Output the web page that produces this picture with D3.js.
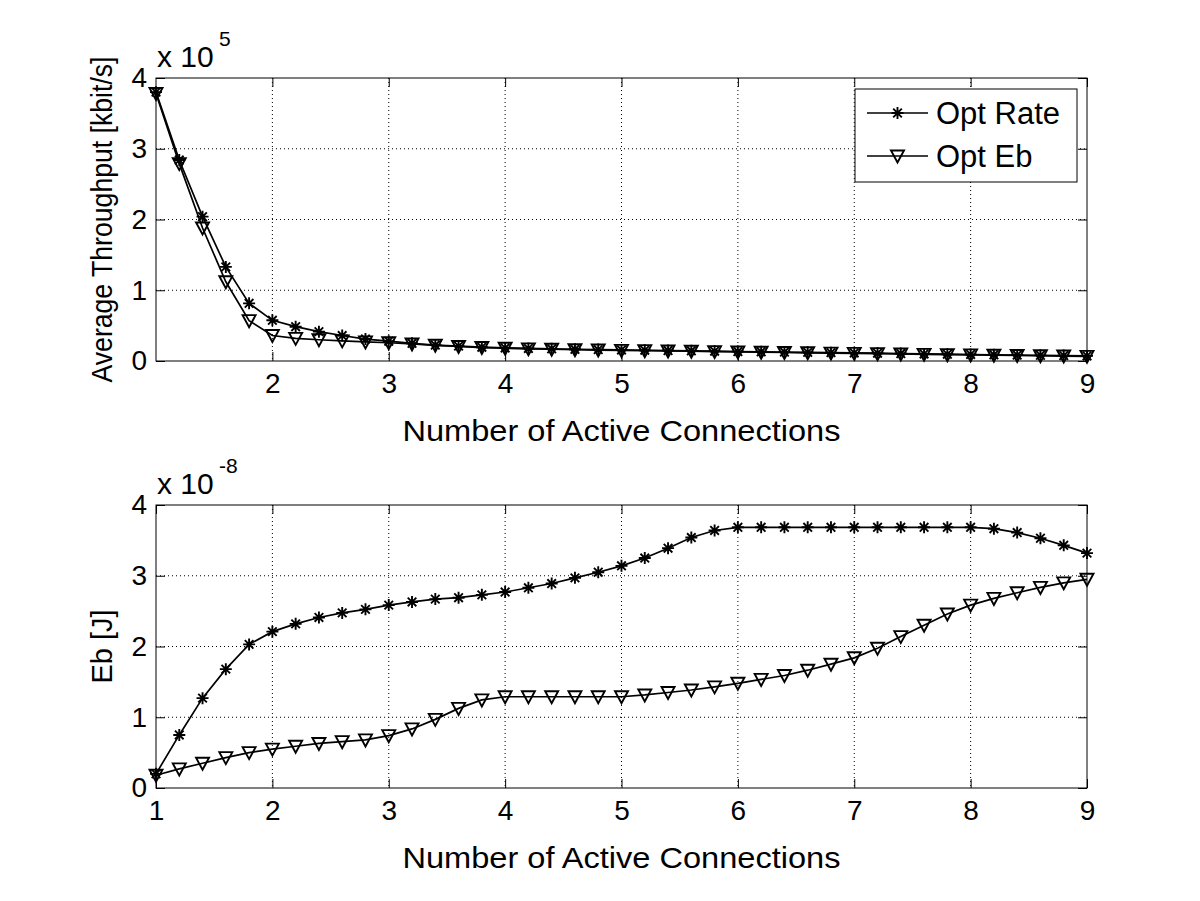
<!DOCTYPE html>
<html>
<head>
<meta charset="utf-8">
<script src="https://cdn.jsdelivr.net/npm/d3@7"></script>
<style>
    body { margin: 0; background: #fff; }
    text { font-family: "Liberation Sans", Arial, sans-serif; fill: #000; }
</style>
</head>
<body>
<script>
// number of active connections (x values of every point)
var connections = [1.0, 1.2, 1.4, 1.6, 1.8, 2.0, 2.2, 2.4, 2.6, 2.8,
    3.0, 3.2, 3.4, 3.6, 3.8, 4.0, 4.2, 4.4, 4.6, 4.8,
    5.0, 5.2, 5.4, 5.6, 5.8, 6.0, 6.2, 6.4, 6.6, 6.8,
    7.0, 7.2, 7.4, 7.6, 7.8, 8.0, 8.2, 8.4, 8.6, 8.8, 9.0];

// average throughput, x 10^5 kbit/s
var thrOptRate = [3.80, 2.84, 2.04, 1.33, 0.815, 0.575, 0.485, 0.415, 0.36, 0.31,
    0.28, 0.25, 0.225, 0.21, 0.195, 0.185, 0.178, 0.172, 0.166, 0.161,
    0.156, 0.152, 0.148, 0.144, 0.139, 0.134, 0.130, 0.126, 0.122, 0.118,
    0.114, 0.110, 0.105, 0.100, 0.096, 0.092, 0.088, 0.084, 0.080, 0.076, 0.072];
var thrOptEb = [3.78, 2.79, 1.88, 1.12, 0.57, 0.36, 0.32, 0.30, 0.285, 0.27,
    0.258, 0.24, 0.222, 0.205, 0.19, 0.18, 0.172, 0.166, 0.160, 0.155,
    0.150, 0.146, 0.142, 0.138, 0.133, 0.128, 0.124, 0.120, 0.116, 0.112,
    0.108, 0.104, 0.099, 0.094, 0.090, 0.086, 0.082, 0.078, 0.074, 0.070, 0.066];

// energy per bit, x 10^-8 J
var ebOptRate = [0.20, 0.75, 1.27, 1.68, 2.03, 2.21, 2.32, 2.41, 2.475, 2.525,
    2.585, 2.63, 2.67, 2.69, 2.73, 2.77, 2.83, 2.89, 2.97, 3.05,
    3.14, 3.25, 3.39, 3.54, 3.64, 3.685, 3.685, 3.685, 3.685, 3.685,
    3.685, 3.685, 3.685, 3.685, 3.685, 3.685, 3.665, 3.61, 3.53, 3.43, 3.32];
var ebOptEb = [0.18, 0.27, 0.35, 0.43, 0.50, 0.55, 0.59, 0.63, 0.655, 0.68,
    0.74, 0.835, 0.97, 1.125, 1.245, 1.29, 1.29, 1.29, 1.29, 1.29,
    1.29, 1.315, 1.35, 1.385, 1.43, 1.48, 1.535, 1.59, 1.665, 1.75,
    1.84, 1.975, 2.14, 2.30, 2.46, 2.585, 2.68, 2.76, 2.835, 2.90, 2.95];

var xTicksTop = [2, 3, 4, 5, 6, 7, 8, 9];
var xTicksBottom = [1, 2, 3, 4, 5, 6, 7, 8, 9];
var yTicks = [0, 1, 2, 3, 4];
var seriesNames = ["Opt Rate", "Opt Eb"];

var W = 1200, H = 901;
var left = 156, right = 1087;
var tickLen = 9;

var svg = d3.select("body").append("svg")
    .attr("width", W)
    .attr("height", H);

var starPath = "M0,-6V6M-6,0H6M-4.3,-4.3L4.3,4.3M-4.3,4.3L4.3,-4.3";
var triPath = "M-6.5,-5.5L6.5,-5.5L0,6.5Z";

function drawMarker(g, type, cx, cy) {
    g.append("path")
        .attr("d", type === "star" ? starPath : triPath)
        .attr("transform", "translate(" + cx + "," + cy + ")")
        .attr("fill", "none")
        .attr("stroke", "#000")
        .attr("stroke-width", 1.9);
}

function drawPanel(opts) {
    var x = d3.scaleLinear().domain([1, 9]).range([left, right]);
    var y = d3.scaleLinear().domain([0, 4]).range([opts.bottom, opts.top]);
    var g = svg.append("g");

    // dotted grid
    g.selectAll(".vgrid").data(xTicksBottom.slice(1, -1)).enter().append("line")
        .attr("x1", function (d) { return x(d); })
        .attr("x2", function (d) { return x(d); })
        .attr("y1", opts.top).attr("y2", opts.bottom)
        .attr("stroke", "#000").attr("stroke-width", 1)
        .attr("stroke-dasharray", "1,3");
    g.selectAll(".hgrid").data(yTicks.slice(1, -1)).enter().append("line")
        .attr("y1", function (d) { return y(d); })
        .attr("y2", function (d) { return y(d); })
        .attr("x1", left).attr("x2", right)
        .attr("stroke", "#000").attr("stroke-width", 1)
        .attr("stroke-dasharray", "1,3");

    // axes, ticks pointing inward on all four sides
    var fontSize = 28;
    var axB = g.append("g").attr("transform", "translate(0," + opts.bottom + ")")
        .call(d3.axisBottom(x).tickValues(opts.xTicks).tickSize(-tickLen).tickPadding(12).tickFormat(d3.format("d")));
    var axT = g.append("g").attr("transform", "translate(0," + opts.top + ")")
        .call(d3.axisTop(x).tickValues(opts.xTicks).tickSize(-tickLen).tickFormat(""));
    var axL = g.append("g").attr("transform", "translate(" + left + ",0)")
        .call(d3.axisLeft(y).tickValues(yTicks).tickSize(-tickLen).tickPadding(9).tickFormat(d3.format("d")));
    var axR = g.append("g").attr("transform", "translate(" + right + ",0)")
        .call(d3.axisRight(y).tickValues(yTicks).tickSize(-tickLen).tickFormat(""));
    [axB, axT, axL, axR].forEach(function (a) {
        a.select(".domain").remove();
        a.selectAll("line").attr("stroke", "#000");
        a.selectAll("text").style("font-size", fontSize + "px")
            .style("font-family", '"Liberation Sans", Arial, sans-serif').attr("fill", "#000");
    });

    // box
    g.append("rect")
        .attr("x", left).attr("y", opts.top)
        .attr("width", right - left).attr("height", opts.bottom - opts.top)
        .attr("fill", "none").attr("stroke", "#000").attr("stroke-width", 1);

    // series
    var line = d3.line()
        .x(function (d, i) { return x(connections[i]); })
        .y(function (d) { return y(d); });
    opts.series.forEach(function (s) {
        g.append("path").datum(s.values)
            .attr("d", line)
            .attr("fill", "none")
            .attr("stroke", "#000")
            .attr("stroke-width", 1.7);
        s.values.forEach(function (v, i) {
            drawMarker(g, s.marker, x(connections[i]), y(v));
        });
    });

    // exponent label
    g.append("text").attr("x", left + 1).attr("y", opts.top - 11)
        .style("font-size", "30px").text("x 10");
    g.append("text").attr("x", 219).attr("y", opts.top - 32)
        .style("font-size", "21px").text(opts.exponent);

    // axis labels
    g.append("text")
        .attr("x", (left + right) / 2).attr("y", opts.bottom + 80)
        .attr("text-anchor", "middle")
        .style("font-size", "29px")
        .attr("textLength", 438).attr("lengthAdjust", "spacingAndGlyphs")
        .text("Number of Active Connections");
    var yl = g.append("text")
        .attr("transform", "translate(112," + ((opts.top + opts.bottom) / 2) + ") rotate(-90)")
        .attr("text-anchor", "middle")
        .style("font-size", "29px")
        .text(opts.yLabel);
    if (opts.yLabelLength) {
        yl.attr("textLength", opts.yLabelLength).attr("lengthAdjust", "spacingAndGlyphs");
    }
}

drawPanel({
    top: 78, bottom: 361,
    xTicks: xTicksTop,
    exponent: "5",
    yLabel: "Average Throughput [kbit/s]",
    yLabelLength: 326,
    series: [
        { values: thrOptRate, marker: "star" },
        { values: thrOptEb, marker: "tri" }
    ]
});

drawPanel({
    top: 505, bottom: 788,
    xTicks: xTicksBottom,
    exponent: "-8",
    yLabel: "Eb [J]",
    series: [
        { values: ebOptRate, marker: "star" },
        { values: ebOptEb, marker: "tri" }
    ]
});

// legend
var lg = svg.append("g");
lg.append("rect")
    .attr("x", 855).attr("y", 89).attr("width", 222).attr("height", 93)
    .attr("fill", "#fff").attr("stroke", "#000").attr("stroke-width", 1);
var legendRows = [113, 156];
seriesNames.forEach(function (name, i) {
    var ly = legendRows[i];
    lg.append("line").attr("x1", 867).attr("x2", 928).attr("y1", ly).attr("y2", ly)
        .attr("stroke", "#000").attr("stroke-width", 1.5);
    drawMarker(lg, i === 0 ? "star" : "tri", 897.5, ly);
    lg.append("text").attr("x", 936).attr("y", ly).attr("dy", "0.36em")
        .style("font-size", "31px").text(name);
});
</script>
</body>
</html>
